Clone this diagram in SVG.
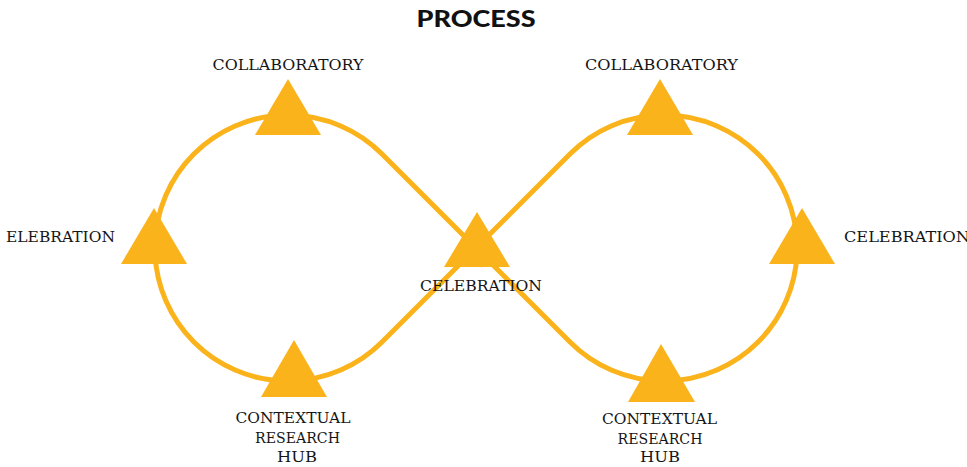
<svg xmlns="http://www.w3.org/2000/svg" width="967" height="467" viewBox="0 0 967 467">
<style>
.tri{fill:#FAB31B}
.loop{fill:none;stroke:#FAB31B;stroke-width:5}
.lbl{font-family:"DejaVu Serif","Liberation Serif",serif;font-size:15px;fill:#151515;text-anchor:middle}
.title{font-family:Lato,"Liberation Sans",sans-serif;font-weight:900;font-size:23px;fill:#111;text-anchor:middle}
</style>
<rect width="967" height="467" fill="#fff"/>
<text class="title" x="476" y="27" textLength="119" lengthAdjust="spacingAndGlyphs">PROCESS</text>
<g id="connectors">
<path class="loop" d="M382,154 L570,342 A133,133 0 1 0 570,154 L382,342 A133,133 0 1 1 382,154 Z"/>
</g>
<g id="collab-left">
<polygon class="tri" points="288,79 255,135 321,135"/>
<text class="lbl" x="288" y="70" textLength="151" lengthAdjust="spacingAndGlyphs">COLLABORATORY</text>
</g>
<g id="elebration-left">
<polygon class="tri" points="154,208 121,264 187,264"/>
<text class="lbl" x="60.5" y="242" textLength="109" lengthAdjust="spacingAndGlyphs">ELEBRATION</text>
</g>
<g id="celebration-center">
<polygon class="tri" points="477,212 444,267 510,267"/>
<text class="lbl" x="481" y="291" textLength="122" lengthAdjust="spacingAndGlyphs">CELEBRATION</text>
</g>
<g id="contextual-left">
<polygon class="tri" points="294,340 261,397 327,397"/>
<text class="lbl" x="293" y="423" textLength="115" lengthAdjust="spacingAndGlyphs">CONTEXTUAL</text>
<text class="lbl" x="297.5" y="443" textLength="85" lengthAdjust="spacingAndGlyphs">RESEARCH</text>
<text class="lbl" x="297" y="462" textLength="40" lengthAdjust="spacingAndGlyphs">HUB</text>
</g>
<g id="collab-right">
<polygon class="tri" points="660,79 627,135 693,135"/>
<text class="lbl" x="661.5" y="70" textLength="153" lengthAdjust="spacingAndGlyphs">COLLABORATORY</text>
</g>
<g id="celebration-right">
<polygon class="tri" points="802,208 769,264 835,264"/>
<text class="lbl" x="907" y="242" textLength="126" lengthAdjust="spacingAndGlyphs">CELEBRATION</text>
</g>
<g id="contextual-right">
<polygon class="tri" points="661,344 628,402 695,402"/>
<text class="lbl" x="659.5" y="424" textLength="115" lengthAdjust="spacingAndGlyphs">CONTEXTUAL</text>
<text class="lbl" x="660" y="444" textLength="85" lengthAdjust="spacingAndGlyphs">RESEARCH</text>
<text class="lbl" x="660" y="462" textLength="40" lengthAdjust="spacingAndGlyphs">HUB</text>
</g>
</svg>
